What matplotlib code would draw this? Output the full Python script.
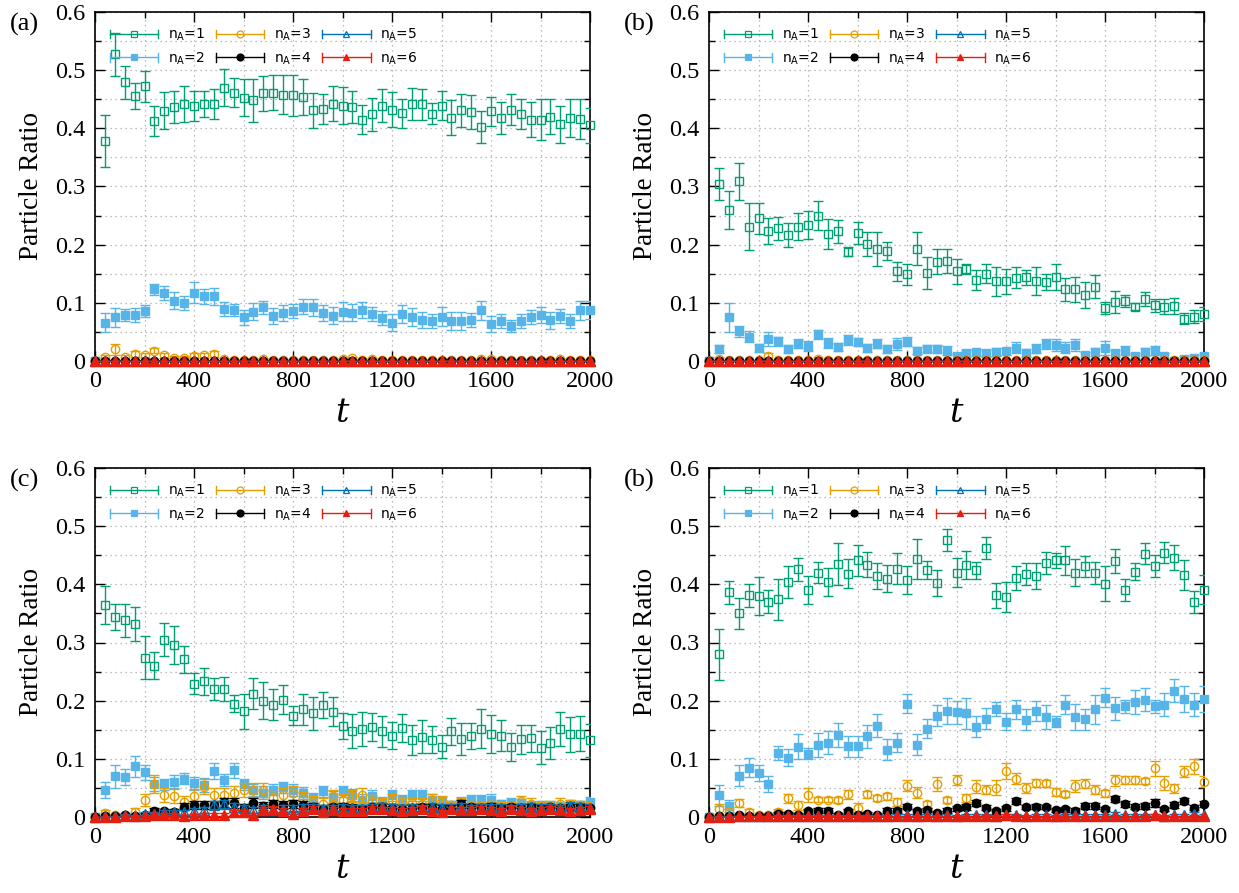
import matplotlib
matplotlib.use("Agg")
import matplotlib.pyplot as plt
from matplotlib.lines import Line2D
from matplotlib.legend_handler import HandlerBase
from matplotlib.container import ErrorbarContainer
from matplotlib.ticker import MultipleLocator, FixedLocator

# ---------------- data ----------------
t = list(range(0, 2001, 40))
labels = ["n$_{\\rm A}$=1", "n$_{\\rm A}$=2", "n$_{\\rm A}$=3",
          "n$_{\\rm A}$=4", "n$_{\\rm A}$=5", "n$_{\\rm A}$=6"]
panel_labels = ["(a)", "(b)", "(c)", "(b)"]
xticks = [0, 400, 800, 1200, 1600, 2000]
yticks = [0, 0.1, 0.2, 0.3, 0.4, 0.5, 0.6]
ytick_labels = ["0", "0.1", "0.2", "0.3", "0.4", "0.5", "0.6"]

Z = [0.0] * 51  # series that stay at zero

# ---- panel (a)
a1 = [0,
      0.378, 0.527, 0.479, 0.456, 0.472, 0.413, 0.430, 0.437, 0.442, 0.438,
      0.442, 0.442, 0.470, 0.461, 0.453, 0.448, 0.460, 0.461, 0.458, 0.457,
      0.454, 0.431, 0.433, 0.442, 0.439, 0.437, 0.415, 0.424, 0.439, 0.432,
      0.426, 0.442, 0.441, 0.425, 0.439, 0.418, 0.431, 0.428, 0.402, 0.429,
      0.418, 0.432, 0.425, 0.415, 0.415, 0.420, 0.407, 0.418, 0.416, 0.405]
a1e = [0,
       0.045, 0.037, 0.028, 0.022, 0.026, 0.026, 0.032, 0.028, 0.031, 0.026,
       0.023, 0.026, 0.032, 0.025, 0.032, 0.037, 0.030, 0.030, 0.033, 0.035,
       0.031, 0.030, 0.026, 0.030, 0.032, 0.028, 0.025, 0.028, 0.028, 0.030,
       0.025, 0.027, 0.026, 0.018, 0.025, 0.030, 0.028, 0.030, 0.028, 0.025,
       0.028, 0.027, 0.026, 0.030, 0.035, 0.030, 0.032, 0.033, 0.035, 0.030]
a2 = [0,
      0.066, 0.075, 0.079, 0.079, 0.086, 0.123, 0.117, 0.104, 0.100, 0.117,
      0.111, 0.111, 0.090, 0.088, 0.075, 0.085, 0.092, 0.077, 0.083, 0.086,
      0.093, 0.092, 0.083, 0.078, 0.085, 0.083, 0.088, 0.081, 0.074, 0.066,
      0.081, 0.076, 0.070, 0.068, 0.076, 0.069, 0.069, 0.071, 0.087, 0.064,
      0.069, 0.060, 0.068, 0.076, 0.079, 0.070, 0.077, 0.069, 0.087, 0.088]
a2e = [0,
       0.016, 0.016, 0.010, 0.012, 0.010, 0.010, 0.012, 0.014, 0.012, 0.018,
       0.013, 0.015, 0.012, 0.010, 0.013, 0.014, 0.012, 0.014, 0.014, 0.012,
       0.013, 0.014, 0.014, 0.015, 0.016, 0.015, 0.014, 0.012, 0.012, 0.015,
       0.016, 0.015, 0.014, 0.012, 0.016, 0.016, 0.015, 0.012, 0.017, 0.014,
       0.012, 0.010, 0.012, 0.012, 0.013, 0.015, 0.012, 0.012, 0.016, 0.016]
a3 = [0,
      0.007, 0.020, 0.007, 0.012, 0.010, 0.018, 0.010, 0.006, 0.006, 0.009,
      0.010, 0.012, 0.003, 0.002, 0.002, 0.002, 0.003, 0.002, 0.002, 0.002,
      0.002, 0.002, 0.002, 0.002, 0.004, 0.005, 0.002, 0.004, 0.002, 0.002,
      0.002, 0.002, 0.002, 0.002, 0.002, 0.002, 0.002, 0.002, 0.004, 0.003,
      0.002, 0.002, 0.002, 0.002, 0.002, 0.002, 0.003, 0.002, 0.002, 0.002]
a3e = [0,
       0.004, 0.010, 0.004, 0.005, 0.004, 0.004, 0.004, 0.003, 0.003, 0.004,
       0.004, 0.005, 0.002, 0.001, 0.001, 0.001, 0.002, 0.001, 0.001, 0.001,
       0.001, 0.001, 0.001, 0.001, 0.002, 0.002, 0.001, 0.002, 0.001, 0.001,
       0.001, 0.001, 0.001, 0.001, 0.001, 0.001, 0.001, 0.001, 0.002, 0.002,
       0.001, 0.001, 0.001, 0.001, 0.001, 0.001, 0.002, 0.001, 0.001, 0.001]

# ---- panel (b) top right
b1 = [0,
      0.304, 0.260, 0.309, 0.231, 0.245, 0.223, 0.228, 0.217, 0.231, 0.234,
      0.250, 0.218, 0.223, 0.188, 0.220, 0.201, 0.192, 0.189, 0.154, 0.149,
      0.193, 0.151, 0.171, 0.172, 0.154, 0.158, 0.139, 0.150, 0.137, 0.137,
      0.143, 0.144, 0.137, 0.136, 0.144, 0.123, 0.123, 0.113, 0.128, 0.091,
      0.101, 0.103, 0.093, 0.107, 0.096, 0.093, 0.094, 0.073, 0.076, 0.081]
b1e = [0,
       0.027, 0.033, 0.032, 0.040, 0.026, 0.022, 0.020, 0.021, 0.023, 0.024,
       0.025, 0.026, 0.020, 0.008, 0.019, 0.021, 0.029, 0.015, 0.016, 0.018,
       0.028, 0.028, 0.021, 0.021, 0.022, 0.008, 0.017, 0.016, 0.025, 0.021,
       0.018, 0.013, 0.024, 0.014, 0.022, 0.020, 0.021, 0.022, 0.019, 0.010,
       0.019, 0.010, 0.006, 0.012, 0.011, 0.013, 0.014, 0.009, 0.011, 0.012]
b2 = [0,
      0.021, 0.075, 0.051, 0.042, 0.023, 0.038, 0.034, 0.021, 0.030, 0.026,
      0.046, 0.031, 0.024, 0.036, 0.032, 0.023, 0.030, 0.021, 0.029, 0.033,
      0.018, 0.021, 0.020, 0.018, 0.009, 0.013, 0.015, 0.013, 0.015, 0.017,
      0.023, 0.014, 0.021, 0.029, 0.028, 0.023, 0.027, 0.010, 0.015, 0.023,
      0.013, 0.018, 0.009, 0.015, 0.018, 0.008, 0.000, 0.004, 0.006, 0.008]
b2e = [0,
       0.007, 0.025, 0.010, 0.010, 0.007, 0.012, 0.008, 0.007, 0.008, 0.008,
       0.008, 0.008, 0.007, 0.009, 0.007, 0.007, 0.008, 0.007, 0.010, 0.008,
       0.006, 0.006, 0.007, 0.008, 0.005, 0.006, 0.006, 0.006, 0.007, 0.006,
       0.009, 0.007, 0.008, 0.009, 0.010, 0.009, 0.010, 0.006, 0.007, 0.012,
       0.006, 0.008, 0.005, 0.007, 0.008, 0.005, 0.003, 0.004, 0.005, 0.006]
b3 = [0,
      0.004, 0.002, 0.001, 0.001, 0.001, 0.008, 0.001, 0.001, 0.001, 0.001,
      0.004, 0.002, 0.001, 0.001, 0.001, 0.002, 0.001, 0.002, 0.001, 0.001,
      0.001, 0.001, 0.001, 0.001, 0.002, 0.001, 0.001, 0.001, 0.001, 0.001,
      0.001, 0.001, 0.001, 0.002, 0.001, 0.002, 0.001, 0.001, 0.001, 0.001,
      0.001, 0.001, 0.001, 0.001, 0.001, 0.001, 0.001, 0.001, 0.001, 0.001]
b3e = [0,
       0.003, 0.002, 0.001, 0.001, 0.001, 0.005, 0.001, 0.001, 0.001, 0.001,
       0.003, 0.002, 0.001, 0.001, 0.001, 0.002, 0.001, 0.002, 0.001, 0.001,
       0.001, 0.001, 0.001, 0.001, 0.002, 0.001, 0.001, 0.001, 0.001, 0.001,
       0.001, 0.001, 0.001, 0.002, 0.001, 0.002, 0.001, 0.001, 0.001, 0.001,
       0.001, 0.001, 0.001, 0.001, 0.001, 0.001, 0.001, 0.001, 0.001, 0.001]

# ---- panel (c)
c1 = [0,
      0.364, 0.344, 0.338, 0.332, 0.274, 0.260, 0.305, 0.296, 0.271, 0.229,
      0.233, 0.220, 0.220, 0.195, 0.182, 0.212, 0.200, 0.193, 0.202, 0.174,
      0.185, 0.178, 0.193, 0.181, 0.156, 0.148, 0.151, 0.154, 0.147, 0.140,
      0.153, 0.132, 0.138, 0.133, 0.121, 0.147, 0.134, 0.139, 0.152, 0.143,
      0.140, 0.120, 0.134, 0.135, 0.119, 0.127, 0.151, 0.142, 0.143, 0.132]
c1e = [0,
       0.033, 0.023, 0.028, 0.029, 0.037, 0.023, 0.028, 0.033, 0.023, 0.018,
       0.024, 0.019, 0.021, 0.015, 0.030, 0.027, 0.032, 0.027, 0.025, 0.016,
       0.026, 0.029, 0.022, 0.025, 0.022, 0.029, 0.029, 0.024, 0.027, 0.023,
       0.024, 0.026, 0.028, 0.023, 0.020, 0.024, 0.027, 0.022, 0.033, 0.033,
       0.027, 0.024, 0.025, 0.024, 0.028, 0.028, 0.029, 0.030, 0.030, 0.028]
c2 = [0,
      0.047, 0.070, 0.069, 0.087, 0.077, 0.057, 0.056, 0.061, 0.066, 0.058,
      0.055, 0.079, 0.064, 0.080, 0.056, 0.046, 0.042, 0.047, 0.051, 0.046,
      0.041, 0.033, 0.044, 0.034, 0.044, 0.038, 0.030, 0.036, 0.026, 0.037,
      0.029, 0.037, 0.037, 0.030, 0.026, 0.020, 0.025, 0.029, 0.029, 0.030,
      0.022, 0.024, 0.023, 0.019, 0.020, 0.019, 0.017, 0.021, 0.020, 0.026]
c2e = [0,
       0.014, 0.020, 0.014, 0.018, 0.013, 0.012, 0.010, 0.011, 0.010, 0.011,
       0.012, 0.013, 0.010, 0.013, 0.010, 0.010, 0.011, 0.010, 0.010, 0.010,
       0.010, 0.009, 0.010, 0.010, 0.010, 0.010, 0.009, 0.010, 0.009, 0.010,
       0.009, 0.010, 0.010, 0.009, 0.009, 0.008, 0.009, 0.009, 0.009, 0.009,
       0.008, 0.008, 0.008, 0.008, 0.008, 0.008, 0.008, 0.008, 0.008, 0.009]
c3 = [0,
      0.007, 0.003, 0.004, 0.009, 0.029, 0.057, 0.037, 0.036, 0.026, 0.036,
      0.052, 0.038, 0.037, 0.041, 0.046, 0.047, 0.046, 0.033, 0.037, 0.042,
      0.032, 0.026, 0.023, 0.036, 0.030, 0.036, 0.037, 0.027, 0.023, 0.029,
      0.025, 0.024, 0.023, 0.030, 0.027, 0.020, 0.023, 0.019, 0.018, 0.020,
      0.017, 0.018, 0.027, 0.023, 0.017, 0.019, 0.023, 0.022, 0.020, 0.018]
c3e = [0,
       0.005, 0.003, 0.003, 0.006, 0.010, 0.015, 0.012, 0.012, 0.010, 0.012,
       0.013, 0.012, 0.012, 0.012, 0.012, 0.012, 0.012, 0.011, 0.012, 0.012,
       0.011, 0.010, 0.009, 0.011, 0.010, 0.011, 0.012, 0.010, 0.009, 0.010,
       0.009, 0.009, 0.009, 0.010, 0.009, 0.008, 0.009, 0.008, 0.008, 0.008,
       0.008, 0.008, 0.009, 0.009, 0.008, 0.008, 0.009, 0.008, 0.008, 0.008]
c4 = [0,
      0.001, 0.001, 0.003, 0.001, 0.004, 0.011, 0.010, 0.009, 0.018, 0.021,
      0.021, 0.020, 0.025, 0.024, 0.016, 0.024, 0.019, 0.022, 0.020, 0.022,
      0.021, 0.018, 0.014, 0.017, 0.018, 0.016, 0.013, 0.017, 0.018, 0.016,
      0.014, 0.016, 0.017, 0.016, 0.014, 0.014, 0.022, 0.017, 0.016, 0.018,
      0.015, 0.017, 0.016, 0.017, 0.015, 0.017, 0.015, 0.017, 0.017, 0.015]
c4e = [0,
       0.001, 0.001, 0.002, 0.001, 0.003, 0.004, 0.004, 0.004, 0.006, 0.007,
       0.007, 0.007, 0.008, 0.008, 0.006, 0.008, 0.007, 0.007, 0.007, 0.007,
       0.007, 0.006, 0.006, 0.006, 0.006, 0.006, 0.006, 0.006, 0.006, 0.006,
       0.006, 0.006, 0.006, 0.006, 0.006, 0.006, 0.007, 0.006, 0.006, 0.006,
       0.006, 0.006, 0.006, 0.006, 0.006, 0.006, 0.006, 0.006, 0.006, 0.006]
c5 = [0,
      0.001, 0.001, 0.003, 0.002, 0.006, 0.006, 0.008, 0.008, 0.008, 0.010,
      0.012, 0.020, 0.022, 0.018, 0.015, 0.012, 0.015, 0.012, 0.014, 0.014,
      0.016, 0.016, 0.014, 0.015, 0.016, 0.015, 0.014, 0.016, 0.018, 0.016,
      0.014, 0.016, 0.015, 0.018, 0.016, 0.016, 0.018, 0.015, 0.016, 0.017,
      0.016, 0.015, 0.016, 0.018, 0.016, 0.017, 0.015, 0.019, 0.018, 0.016]
c5e = [0,
       0.001, 0.001, 0.002, 0.002, 0.003, 0.003, 0.004, 0.004, 0.004, 0.005,
       0.005, 0.007, 0.007, 0.006, 0.006, 0.005, 0.006, 0.005, 0.006, 0.006,
       0.006, 0.006, 0.006, 0.006, 0.006, 0.006, 0.006, 0.006, 0.006, 0.006,
       0.006, 0.006, 0.006, 0.006, 0.006, 0.006, 0.006, 0.006, 0.006, 0.006,
       0.006, 0.006, 0.006, 0.006, 0.006, 0.006, 0.006, 0.006, 0.006, 0.006]
c6 = [0,
      0.000, 0.000, 0.002, 0.001, 0.002, 0.004, 0.004, 0.004, 0.002, 0.003,
      0.004, 0.004, 0.004, 0.008, 0.008, 0.004, 0.012, 0.014, 0.010, 0.006,
      0.010, 0.014, 0.008, 0.012, 0.010, 0.010, 0.011, 0.014, 0.013, 0.012,
      0.010, 0.012, 0.014, 0.010, 0.008, 0.013, 0.012, 0.012, 0.014, 0.012,
      0.010, 0.014, 0.012, 0.010, 0.012, 0.014, 0.012, 0.010, 0.012, 0.014]
c6e = [0,
       0.000, 0.000, 0.002, 0.001, 0.002, 0.003, 0.003, 0.003, 0.002, 0.003,
       0.003, 0.003, 0.003, 0.004, 0.004, 0.003, 0.005, 0.005, 0.005, 0.004,
       0.005, 0.005, 0.004, 0.005, 0.005, 0.005, 0.005, 0.005, 0.005, 0.005,
       0.005, 0.005, 0.005, 0.005, 0.004, 0.005, 0.005, 0.005, 0.005, 0.005,
       0.005, 0.005, 0.005, 0.005, 0.005, 0.005, 0.005, 0.005, 0.005, 0.005]

# ---- panel (d) bottom right, labelled "(b)"
d1 = [0,
      0.280, 0.386, 0.350, 0.381, 0.380, 0.370, 0.374, 0.404, 0.426, 0.390,
      0.420, 0.404, 0.435, 0.418, 0.441, 0.434, 0.414, 0.410, 0.427, 0.407,
      0.444, 0.425, 0.402, 0.476, 0.420, 0.433, 0.424, 0.462, 0.381, 0.378,
      0.411, 0.417, 0.414, 0.436, 0.441, 0.441, 0.420, 0.431, 0.419, 0.401,
      0.440, 0.390, 0.422, 0.453, 0.432, 0.454, 0.446, 0.416, 0.370, 0.391]
d1e = [0,
       0.044, 0.019, 0.026, 0.020, 0.032, 0.020, 0.036, 0.028, 0.020, 0.024,
       0.018, 0.024, 0.036, 0.025, 0.026, 0.022, 0.022, 0.023, 0.027, 0.024,
       0.034, 0.015, 0.022, 0.019, 0.025, 0.024, 0.014, 0.019, 0.021, 0.026,
       0.021, 0.019, 0.022, 0.019, 0.013, 0.025, 0.023, 0.018, 0.019, 0.030,
       0.020, 0.019, 0.014, 0.018, 0.019, 0.018, 0.021, 0.026, 0.019, 0.025]
d2 = [0,
      0.037, 0.019, 0.071, 0.085, 0.076, 0.057, 0.110, 0.102, 0.121, 0.109,
      0.124, 0.128, 0.141, 0.122, 0.122, 0.139, 0.157, 0.116, 0.128, 0.195,
      0.124, 0.152, 0.174, 0.182, 0.180, 0.178, 0.155, 0.169, 0.185, 0.164,
      0.185, 0.167, 0.182, 0.172, 0.164, 0.193, 0.172, 0.168, 0.185, 0.205,
      0.187, 0.190, 0.198, 0.202, 0.190, 0.193, 0.217, 0.203, 0.193, 0.203]
d2e = [0,
       0.018, 0.010, 0.018, 0.016, 0.014, 0.014, 0.012, 0.015, 0.021, 0.010,
       0.021, 0.020, 0.020, 0.018, 0.018, 0.020, 0.020, 0.018, 0.016, 0.017,
       0.018, 0.016, 0.018, 0.022, 0.020, 0.027, 0.018, 0.018, 0.012, 0.014,
       0.017, 0.018, 0.017, 0.020, 0.010, 0.016, 0.022, 0.018, 0.025, 0.016,
       0.020, 0.012, 0.021, 0.020, 0.012, 0.020, 0.020, 0.022, 0.020, 0.022]
d3 = [0,
      0.014, 0.009, 0.024, 0.009, 0.004, 0.003, 0.009, 0.032, 0.020, 0.037,
      0.030, 0.030, 0.029, 0.039, 0.016, 0.039, 0.033, 0.036, 0.026, 0.054,
      0.042, 0.022, 0.056, 0.029, 0.064, 0.032, 0.052, 0.047, 0.050, 0.079,
      0.066, 0.050, 0.058, 0.058, 0.043, 0.040, 0.053, 0.057, 0.047, 0.041,
      0.063, 0.063, 0.064, 0.062, 0.084, 0.058, 0.049, 0.078, 0.087, 0.061]
d3e = [0,
       0.008, 0.005, 0.007, 0.005, 0.003, 0.003, 0.005, 0.008, 0.008, 0.012,
       0.005, 0.005, 0.005, 0.008, 0.008, 0.006, 0.005, 0.006, 0.007, 0.010,
       0.010, 0.006, 0.012, 0.005, 0.009, 0.007, 0.011, 0.008, 0.013, 0.014,
       0.010, 0.008, 0.007, 0.006, 0.007, 0.005, 0.010, 0.008, 0.008, 0.006,
       0.010, 0.007, 0.007, 0.005, 0.013, 0.012, 0.008, 0.010, 0.013, 0.010]
d4 = [0,
      0.001, 0.001, 0.003, 0.002, 0.002, 0.002, 0.006, 0.006, 0.004, 0.010,
      0.011, 0.011, 0.004, 0.010, 0.004, 0.006, 0.003, 0.011, 0.011, 0.018,
      0.010, 0.012, 0.007, 0.011, 0.015, 0.017, 0.024, 0.016, 0.010, 0.015,
      0.027, 0.017, 0.018, 0.017, 0.012, 0.013, 0.011, 0.019, 0.019, 0.014,
      0.031, 0.022, 0.018, 0.019, 0.024, 0.014, 0.020, 0.027, 0.016, 0.022]
d4e = [0,
       0.001, 0.001, 0.002, 0.002, 0.002, 0.002, 0.003, 0.003, 0.003, 0.004,
       0.004, 0.004, 0.003, 0.004, 0.003, 0.003, 0.003, 0.004, 0.004, 0.005,
       0.004, 0.004, 0.003, 0.004, 0.004, 0.005, 0.005, 0.004, 0.004, 0.004,
       0.005, 0.004, 0.004, 0.004, 0.004, 0.004, 0.004, 0.005, 0.005, 0.004,
       0.005, 0.005, 0.004, 0.005, 0.007, 0.004, 0.005, 0.005, 0.004, 0.005]
d5 = [0,
      0.001, 0.001, 0.001, 0.001, 0.001, 0.001, 0.002, 0.002, 0.002, 0.002,
      0.002, 0.002, 0.002, 0.002, 0.002, 0.002, 0.002, 0.002, 0.003, 0.003,
      0.002, 0.003, 0.002, 0.003, 0.002, 0.003, 0.003, 0.003, 0.002, 0.003,
      0.003, 0.002, 0.003, 0.003, 0.002, 0.003, 0.003, 0.004, 0.004, 0.004,
      0.006, 0.003, 0.004, 0.003, 0.003, 0.002, 0.003, 0.003, 0.006, 0.003]
d5e = [0,
       0.001, 0.001, 0.001, 0.001, 0.001, 0.001, 0.001, 0.001, 0.001, 0.001,
       0.001, 0.001, 0.001, 0.001, 0.001, 0.001, 0.001, 0.001, 0.002, 0.002,
       0.001, 0.002, 0.001, 0.002, 0.001, 0.002, 0.002, 0.002, 0.001, 0.002,
       0.002, 0.001, 0.002, 0.002, 0.001, 0.002, 0.002, 0.002, 0.002, 0.002,
       0.003, 0.002, 0.002, 0.002, 0.002, 0.001, 0.002, 0.002, 0.003, 0.002]
d6 = [0,
      0.000, 0.000, 0.001, 0.001, 0.001, 0.001, 0.001, 0.001, 0.001, 0.001,
      0.001, 0.001, 0.001, 0.001, 0.001, 0.001, 0.001, 0.001, 0.001, 0.001,
      0.001, 0.001, 0.001, 0.001, 0.001, 0.001, 0.001, 0.002, 0.002, 0.004,
      0.002, 0.001, 0.001, 0.001, 0.001, 0.001, 0.001, 0.001, 0.001, 0.001,
      0.001, 0.001, 0.001, 0.002, 0.003, 0.001, 0.001, 0.001, 0.001, 0.001]
d6e = [0,
       0.000, 0.000, 0.001, 0.001, 0.001, 0.001, 0.001, 0.001, 0.001, 0.001,
       0.001, 0.001, 0.001, 0.001, 0.001, 0.001, 0.001, 0.001, 0.001, 0.001,
       0.001, 0.001, 0.001, 0.001, 0.001, 0.001, 0.001, 0.001, 0.001, 0.002,
       0.001, 0.001, 0.001, 0.001, 0.001, 0.001, 0.001, 0.001, 0.001, 0.001,
       0.001, 0.001, 0.001, 0.001, 0.002, 0.001, 0.001, 0.001, 0.001, 0.001]

panels = [
    ([a1, a2, a3, Z, Z, Z], [a1e, a2e, a3e, Z, Z, Z]),
    ([b1, b2, b3, Z, Z, Z], [b1e, b2e, b3e, Z, Z, Z]),
    ([c1, c2, c3, c4, c5, c6], [c1e, c2e, c3e, c4e, c5e, c6e]),
    ([d1, d2, d3, d4, d5, d6], [d1e, d2e, d3e, d4e, d5e, d6e]),
]

# ---------------- style ----------------
colors = ["#009e73", "#56b4e9", "#e69f00", "#000000", "#0072b2", "#e51e10"]
markers = ["s", "s", "o", "o", "^", "^"]
filled = [False, True, False, True, False, True]

plt.rcParams["font.family"] = ["Liberation Serif", "DejaVu Serif"]
plt.rcParams["mathtext.fontset"] = "dejavusans"


class HandlerHBar(HandlerBase):
    def create_artists(self, legend, orig_handle, xdescent, ydescent,
                       width, height, fontsize, trans):
        ln = orig_handle.lines[0]
        col = ln.get_color()
        y = height / 2.0 - ydescent
        x0 = -xdescent
        x1 = width - xdescent
        h = 0.3 * fontsize
        arts = [Line2D([x0, x1], [y, y], color=col, lw=1.0),
                Line2D([x0, x0], [y - h, y + h], color=col, lw=1.0),
                Line2D([x1, x1], [y - h, y + h], color=col, lw=1.0),
                Line2D([(x0 + x1) / 2.0], [y], marker=ln.get_marker(),
                       markersize=5, markerfacecolor=ln.get_markerfacecolor(),
                       markeredgecolor=col, markeredgewidth=0.9, linestyle="none")]
        for a in arts:
            a.set_transform(trans)
        return arts


fig = plt.figure(figsize=(12.39, 8.93), dpi=100)
W, H = 1239.0, 893.0
ax_w = (590 - 95) / W
ax_h = (361 - 12) / H
rects = [(95 / W, 1 - 361 / H), (709 / W, 1 - 361 / H),
         (95 / W, 1 - 817 / H), (709 / W, 1 - 817 / H)]

for k, ((ys, es), (lx, by)) in enumerate(zip(panels, rects)):
    ax = fig.add_axes([lx, by, ax_w, ax_h])
    handles = []
    for i in range(6):
        c = colors[i]
        eb = ax.errorbar(t, ys[i], yerr=es[i], fmt=markers[i], color=c,
                         ecolor=c, elinewidth=1.0, capsize=3.5, capthick=1.0,
                         markersize=6 if markers[i] != "^" else 6.5,
                         markerfacecolor=c if filled[i] else "none",
                         markeredgecolor=c, markeredgewidth=1.0,
                         label=labels[i], zorder=3 + i)
        for art in eb.lines[0:1]:
            art.set_clip_on(False)
        handles.append(eb)
    ax.set_xlim(0, 2000)
    ax.set_ylim(0, 0.6)
    ax.xaxis.set_major_locator(FixedLocator(xticks))
    ax.xaxis.set_minor_locator(MultipleLocator(200))
    ax.yaxis.set_major_locator(FixedLocator(yticks))
    ax.set_yticklabels(ytick_labels)
    ax.yaxis.set_minor_locator(MultipleLocator(0.05))
    ax.grid(True, which="both", color="#a8a8a8", linestyle=(0, (1, 3)), lw=0.9)
    ax.set_axisbelow(True)
    ax.tick_params(which="both", direction="in", top=True, right=True,
                   labelsize=17.5, pad=7, width=1.0)
    ax.tick_params(which="major", length=7)
    ax.tick_params(which="minor", length=4)
    for s in ax.spines.values():
        s.set_linewidth(1.2)
        s.set_zorder(2.5)
    ax.set_ylabel("Particle Ratio", fontsize=19.5, labelpad=8)
    ax.set_xlabel("$t$", fontsize=24, labelpad=5,
                  math_fontfamily="dejavuserif")
    leg = ax.legend(handles=handles, ncol=3, loc="upper left",
                    bbox_to_anchor=(0.01, 0.985), frameon=False,
                    prop={"family": "DejaVu Sans", "size": 10},
                    handler_map={ErrorbarContainer: HandlerHBar()},
                    handlelength=3.5, handletextpad=0.7, columnspacing=0.75,
                    labelspacing=0.5, borderaxespad=0.3)
    fig.text(lx - 85 / W, by + ax_h - 12 / H, panel_labels[k],
             fontsize=19, ha="left", va="center")

fig.savefig("out.png", dpi=100)
